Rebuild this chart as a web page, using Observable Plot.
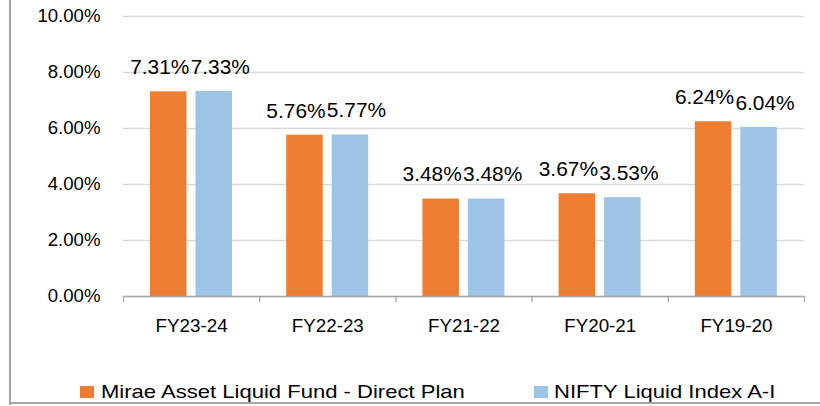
<!DOCTYPE html>
<html>
<head>
<meta charset="utf-8">
<script src="https://cdn.jsdelivr.net/npm/d3@7"></script>
<script src="https://cdn.jsdelivr.net/npm/@observablehq/plot@0.6"></script>
<style>
  html, body { margin: 0; padding: 0; background: #fff; }
  #wrap { position: relative; width: 820px; height: 406px; overflow: hidden; font-family: "Liberation Sans", Arial, sans-serif; }
  .edgeL { position: absolute; left: 9px; top: 0; width: 2px; height: 405px; background: #a6a6a6; }
  .edgeB { position: absolute; left: 9px; top: 402px; width: 811px; height: 2px; background: #a6a6a6; }
  #chart { position: absolute; left: 0; top: 0; }
  .sw { position: absolute; top: 386px; width: 14px; height: 12px; }
  .lt { position: absolute; top: 382px; font-size: 19px; line-height: 19px; color: #000; white-space: nowrap; transform: scaleX(1.16); transform-origin: left center; }
</style>
</head>
<body>
<div id="wrap">
  <div id="chart"></div>
  <div class="edgeL"></div>
  <div class="edgeB"></div>
  <div id="legend"></div>
</div>
<script>
// ---- data ----
const categories = ["FY23-24", "FY22-23", "FY21-22", "FY20-21", "FY19-20"];
const seriesNames = ["Mirae Asset Liquid Fund - Direct Plan", "NIFTY Liquid Index A-I"];
const miraeValues = [7.31, 5.76, 3.48, 3.67, 6.24];
const niftyValues = [7.33, 5.77, 3.48, 3.53, 6.04];
const yTicks = [0, 2, 4, 6, 8, 10];
const colors = ["#ED7D31", "#9DC3E6"];

const mirae = categories.map((c, i) => ({cat: c, value: miraeValues[i]}));
const nifty = categories.map((c, i) => ({cat: c, value: niftyValues[i]}));

// ---- layout ----
const W = 820, H = 350;
const mL = 123, mR = 16, mT = 16, mB = 54;
const step = (W - mL - mR) / categories.length;
const outerInset = 27;
const barW = 36.5;
const gap = 9;
const orangeL = outerInset, orangeR = step - outerInset - barW;
const blueL = outerInset + barW + gap, blueR = step - blueL - barW;
const orangeDx = orangeL + barW / 2 - step / 2 - 9;
const blueDx = blueL + barW / 2 - step / 2 + 6;
const fmt = d => d.toFixed(2) + "%";

const axisColor = "#a6a6a6";

const plot = Plot.plot({
  width: W,
  height: H,
  marginLeft: mL,
  marginRight: mR,
  marginTop: mT,
  marginBottom: mB,
  style: {fontFamily: "'Liberation Sans', Arial, sans-serif", background: "transparent", color: "#000"},
  x: {type: "band", domain: categories, padding: 0, round: false},
  y: {domain: [0, 10]},
  marks: [
    Plot.gridY(yTicks, {stroke: "#d9d9d9", strokeOpacity: 1, strokeWidth: 1.3}),
    Plot.barY(mirae, {x: "cat", y: "value", fill: colors[0], insetLeft: orangeL, insetRight: orangeR}),
    Plot.barY(nifty, {x: "cat", y: "value", fill: colors[1], insetLeft: blueL, insetRight: blueR}),
    Plot.ruleY([0], {stroke: axisColor, strokeWidth: 1.5}),
    Plot.ruleX(categories, {x: d => d, y1: () => 0, y2: () => 0, dx: -step / 2, insetBottom: -6, stroke: axisColor, strokeWidth: 1.3}),
    Plot.ruleX(categories.slice(-1), {x: d => d, y1: () => 0, y2: () => 0, dx: step / 2, insetBottom: -6, stroke: axisColor, strokeWidth: 1.3}),
    Plot.axisY(yTicks, {tickSize: 0, tickPadding: 23, tickFormat: fmt, fontSize: 18.6, label: null, color: "#000"}),
    Plot.axisX({tickSize: 0, tickPadding: 22, fontSize: 18.8, label: null, color: "#000"}),
    Plot.text(mirae, {x: "cat", y: "value", text: d => fmt(d.value), dx: orangeDx, dy: -17.7, lineAnchor: "bottom", fontSize: 20.9, fill: "#000"}),
    Plot.text(nifty, {x: "cat", y: "value", text: d => fmt(d.value), dx: blueDx, dy: -17.7, lineAnchor: "bottom", fontSize: 20.9, fill: "#000"})
  ]
});
document.getElementById("chart").appendChild(plot);

// ---- legend ----
const legend = document.getElementById("legend");
const legendPos = [{sq: 80, tx: 100.5}, {sq: 534, tx: 554}];
seriesNames.forEach((name, i) => {
  const sw = document.createElement("div");
  sw.className = "sw";
  sw.style.left = legendPos[i].sq + "px";
  sw.style.background = colors[i];
  legend.appendChild(sw);
  const t = document.createElement("div");
  t.className = "lt";
  t.style.left = legendPos[i].tx + "px";
  t.textContent = name;
  legend.appendChild(t);
});
</script>
</body>
</html>
